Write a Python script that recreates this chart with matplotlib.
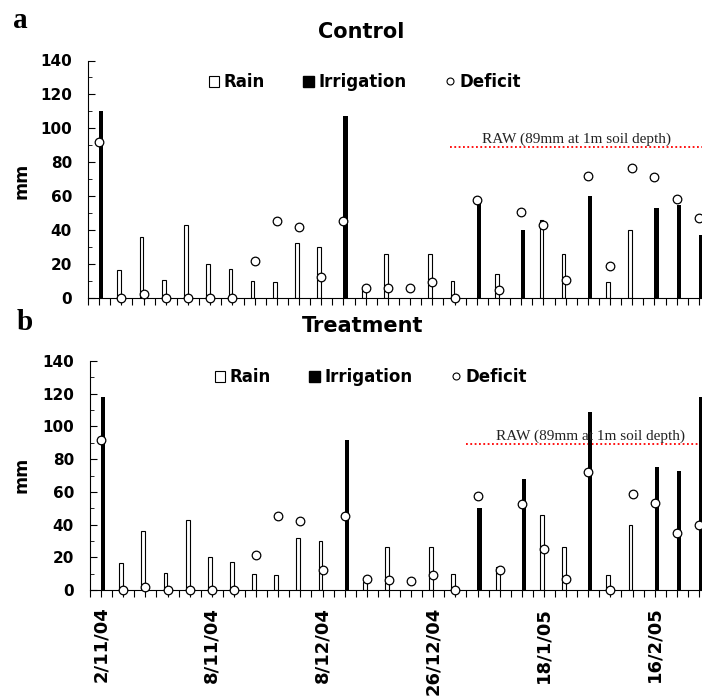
import matplotlib
matplotlib.use('Agg')
import matplotlib.pyplot as plt
import numpy as np
from matplotlib.patches import Patch
from matplotlib.lines import Line2D
from matplotlib.ticker import MultipleLocator, FixedLocator

# 28 measurement dates (category axis), labels shown every 5th
label_pos = [0, 5, 10, 15, 20, 25]
label_txt = ['2/11/04', '8/11/04', '8/12/04', '26/12/04', '18/1/05', '16/2/05']

rain = [0, 16.5, 36, 10.5, 43, 20, 17, 10, 9, 32, 30, 0, 5, 26,
        0, 26, 10, 0, 14, 0, 46, 26, 0, 9, 40, 0, 0, 0]

irrig_control = [110, 0, 0, 0, 0, 0, 0, 0, 0, 0, 0, 107.5, 0, 0,
                 0, 0, 0, 57.5, 0, 40, 0, 0, 60, 0, 0, 53, 54.5, 37]
deficit_control = [92, 0, 2, 0, 0, 0, 0, 21.5, 45.5, 42, 12.5, 45, 6, 6,
                   5.5, 9, 0, 57.5, 4.5, 50.5, 43, 10.5, 72, 19, 76.5, 71.5, 58.5, 47]

irrig_treat = [118, 0, 0, 0, 0, 0, 0, 0, 0, 0, 0, 92, 0, 0,
               0, 0, 0, 50, 0, 68, 0, 0, 109, 0, 0, 75, 73, 118]
deficit_treat = [92, 0, 2, 0, 0, 0, 0, 21.5, 45.5, 42, 12.5, 45, 6.5, 6,
                 5.5, 9, 0, 57.5, 12.5, 52.5, 25, 7, 72, 0, 58.5, 53, 35, 39.5]

RAW = 89
raw_label = 'RAW (89mm at 1m soil depth)'

W, H = 702, 700
fig = plt.figure(figsize=(W / 100, H / 100), dpi=100)

x = np.arange(len(rain))
rain_arr = np.array(rain, dtype=float)


def panel(ax, irrig, deficit, raw_start, raw_tx, leg_xy, show_labels):
    irr = np.array(irrig, dtype=float)
    m = rain_arr > 0
    ax.bar(x[m] - 0.09, rain_arr[m], width=0.17, color='white',
           edgecolor='black', linewidth=0.8, zorder=2)
    k = irr > 0
    ax.bar(x[k] + 0.09, irr[k], width=0.19, color='black', zorder=2)
    ax.plot(x, deficit, 'o', ms=6.2, mfc='white', mec='black', mew=0.9,
            zorder=4, clip_on=False)
    ax.plot([raw_start, 27.6], [RAW, RAW], color='red', ls=(0, (1, 1.4)), lw=1.3,
            zorder=1)
    ax.text(raw_tx, RAW + 0.8, raw_label, family='Liberation Serif', fontsize=11,
            ha='center', va='bottom', color='#222222')

    ax.set_xlim(-0.5, 27.5)
    ax.set_ylim(0, 140)
    ax.spines['top'].set_visible(False)
    ax.spines['right'].set_visible(False)
    for s in ('left', 'bottom'):
        ax.spines[s].set_linewidth(0.8)

    ax.xaxis.set_major_locator(FixedLocator(label_pos))
    ax.xaxis.set_minor_locator(MultipleLocator(0.5))
    ax.tick_params(axis='x', which='both', direction='out', length=5, width=0.8)
    if show_labels:
        ax.set_xticklabels(label_txt, rotation=90, fontsize=13, fontweight='bold')
        ax.tick_params(axis='x', pad=7)
    else:
        ax.tick_params(axis='x', labelbottom=False)

    ax.set_yticks(range(0, 141, 20))
    ax.yaxis.set_minor_locator(MultipleLocator(10))
    ax.tick_params(axis='y', which='major', direction='in', length=5, width=0.8,
                   pad=11.5, labelsize=11)
    ax.tick_params(axis='y', which='minor', direction='in', length=3, width=0.6)
    for t in ax.get_yticklabels():
        t.set_fontweight('bold')

    handles = [Patch(facecolor='white', edgecolor='black', linewidth=0.8),
               Patch(facecolor='black', edgecolor='black'),
               Line2D([], [], marker='o', ls='none', ms=5, mfc='white',
                      mec='black', mew=0.8)]
    ax.legend(handles, ['Rain', 'Irrigation', 'Deficit'], ncol=3, loc='center',
              bbox_to_anchor=leg_xy, frameon=False,
              prop=dict(weight='bold', size=12), handlelength=0.65,
              handleheight=0.65, handletextpad=0.25, columnspacing=2.3,
              borderpad=0, borderaxespad=0)


ax_a = fig.add_axes([88 / W, 1 - 297.7 / H, 622 / W, 237.2 / H])
panel(ax_a, irrig_control, deficit_control, 15.8, 21.5, (0.445, 0.909), False)

ax_b = fig.add_axes([90 / W, 1 - 590 / H, 620 / W, 229 / H])
panel(ax_b, irrig_treat, deficit_treat, 16.5, 22.1, (0.453, 0.930), True)

fig.text(361 / W, 1 - 32 / H, 'Control', ha='center', va='center',
         fontweight='bold', fontsize=15)
fig.text(363 / W, 1 - 326 / H, 'Treatment', ha='center', va='center',
         fontweight='bold', fontsize=15)
fig.text(22 / W, 1 - 181 / H, 'mm', rotation=90, ha='center', va='center',
         fontweight='bold', fontsize=12.5)
fig.text(22 / W, 1 - 475 / H, 'mm', rotation=90, ha='center', va='center',
         fontweight='bold', fontsize=12.5)
fig.text(20 / W, 1 - 20 / H, 'a', family='Liberation Serif', fontweight='bold',
         fontsize=21, ha='center', va='center')
fig.text(25 / W, 1 - 322 / H, 'b', family='Liberation Serif', fontweight='bold',
         fontsize=21, ha='center', va='center')

fig.savefig('out.png', dpi=100)
